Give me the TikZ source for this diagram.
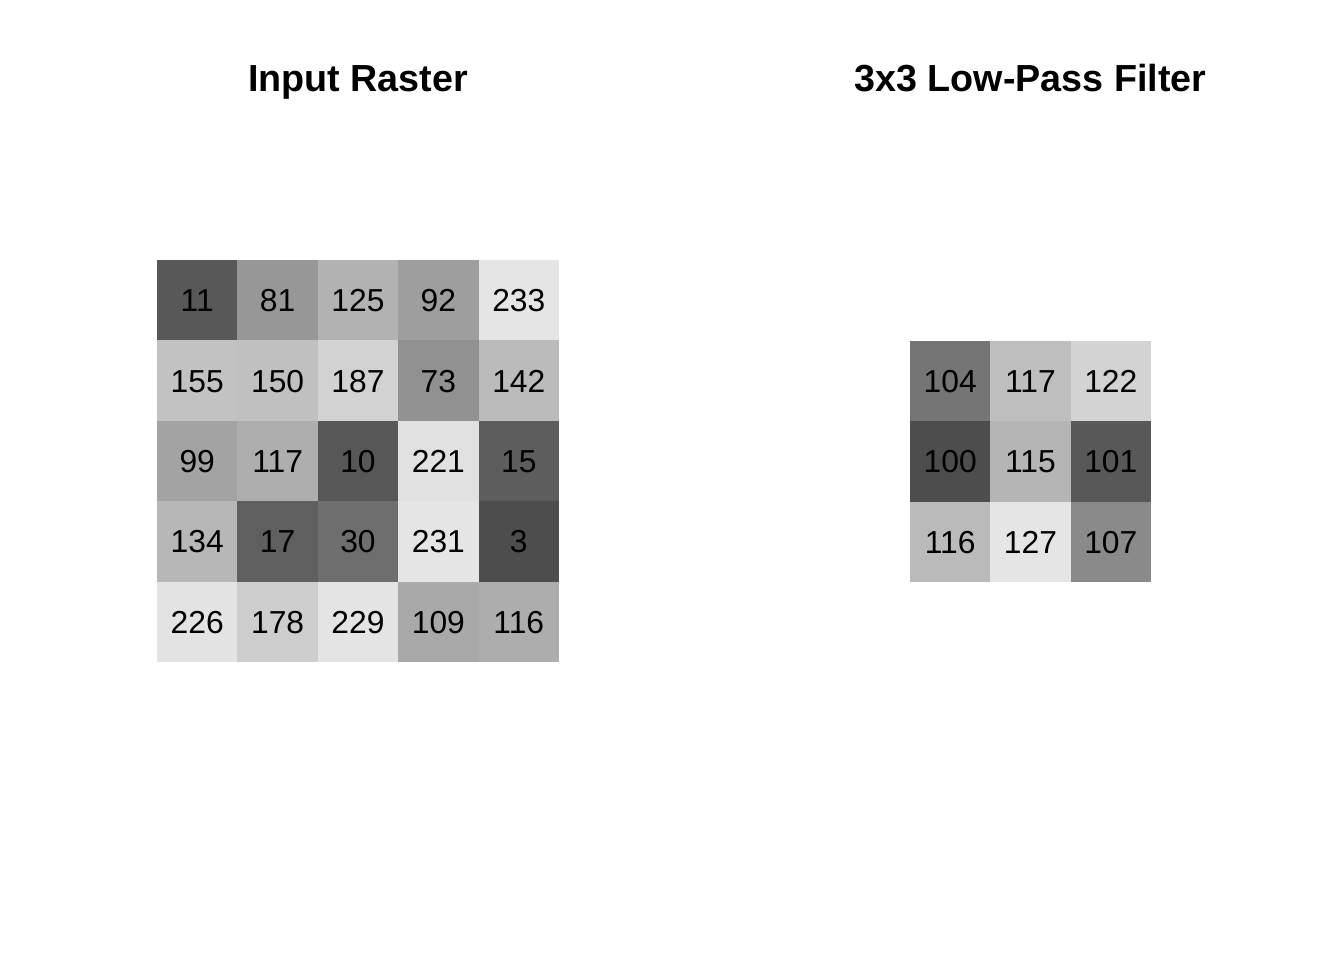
\documentclass[tikz,border=0pt]{standalone}
\usepackage{fontspec}
\setmainfont{Liberation Sans}
\begin{document}
\begin{tikzpicture}[x=1pt,y=-1pt]
\useasboundingbox (0,0) rectangle (1344,960);
\tikzset{
  cell/.style={minimum width=80.4pt,minimum height=80.4pt,inner sep=0pt,outer sep=0pt,
    font=\fontsize{31.8}{36}\selectfont,text=black,text height=22.8pt,text depth=0pt},
  ttl/.style={font=\fontsize{37.7}{44}\selectfont\bfseries,inner sep=0pt,text height=27pt,text depth=0pt}
}
% titles
\node[ttl] (tL) at (358,78.5) {Input Raster};
\node[ttl] (tR) at (1030.5,78.5) {3x3 Low-Pass Filter};
% left raster
\foreach \v [count=\i from 0] in {11,81,125,92,233,155,150,187,73,142,99,117,10,221,15,134,17,30,231,3,226,178,229,109,116}{
  \pgfmathtruncatemacro\r{int(\i/5)}
  \pgfmathtruncatemacro\c{mod(\i,5)}
  \pgfmathsetmacro\g{pow(0.07074+(\v-3)/230*0.72237,1/2.2)}
  \definecolor{cc}{gray}{\g}
  \fill[cc] ({157+80.4*\c},{260+80.4*\r}) rectangle +(80.7,80.7);
  \node[cell] (L-\r-\c) at ({157+80.4*(\c+0.5)},{260+80.4*(\r+0.5)}) {\v};
}
% right raster
\foreach \v [count=\i from 0] in {104,117,122,100,115,101,116,127,107}{
  \pgfmathtruncatemacro\r{int(\i/3)}
  \pgfmathtruncatemacro\c{mod(\i,3)}
  \pgfmathsetmacro\g{pow(0.07074+(\v-100)/27*0.72237,1/2.2)}
  \definecolor{cc}{gray}{\g}
  \fill[cc] ({910+80.33*\c},{341+80.33*\r}) rectangle +(80.6,80.6);
  \node[cell] (R-\r-\c) at ({910+80.33*(\c+0.5)},{341+80.33*(\r+0.5)}) {\v};
}
\end{tikzpicture}
\end{document}
